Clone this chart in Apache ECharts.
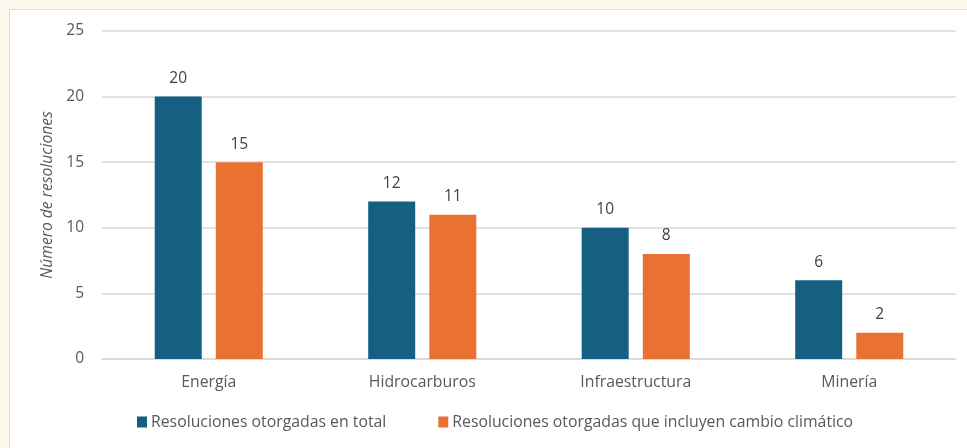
<!DOCTYPE html>
<html><head><meta charset="utf-8">
<script src="https://cdn.jsdelivr.net/npm/echarts@6/dist/echarts.min.js"></script>
<style>html,body{margin:0;padding:0;background:#fdf9ec;}#c{width:967px;height:448px;}</style>
</head><body><div id="c"></div>
<script>
const categories = ['Energía', 'Hidrocarburos', 'Infraestructura', 'Minería'];
const totalValues = [20, 12, 10, 6];
const climateValues = [15, 11, 8, 2];
const seriesNames = ['Resoluciones otorgadas en total', 'Resoluciones otorgadas que incluyen cambio climático'];
const yTicks = {min: 0, max: 25, interval: 5};
const font = '"Open Sans", sans-serif';
const chart = echarts.init(document.getElementById('c'));
chart.setOption({
  backgroundColor: '#fdf9ec',
  graphic: [{type: 'rect', z: -10, shape: {x: 9.5, y: 9.5, width: 980, height: 460}, style: {fill: '#ffffff', stroke: '#dcdcdc', lineWidth: 1}}],
  textStyle: {fontFamily: font},
  grid: {left: 102, right: 11, top: 31, bottom: 89},
  legend: {
    bottom: 13, left: 132, itemWidth: 10, itemHeight: 11, icon: 'rect', itemGap: 52,
    textStyle: {color: '#595959', fontSize: 15.8, fontFamily: font, padding: [0, 0, 0, -1]},
    data: seriesNames
  },
  xAxis: {
    type: 'category', data: categories,
    axisTick: {show: false},
    axisLine: {lineStyle: {color: '#d9d9d9', width: 1.5}},
    axisLabel: {color: '#595959', fontSize: 15.8, margin: 15, fontFamily: font}
  },
  yAxis: {
    type: 'value', min: yTicks.min, max: yTicks.max, interval: yTicks.interval,
    name: 'Número de resoluciones', nameLocation: 'middle', nameGap: 46,
    nameTextStyle: {color: '#595959', fontSize: 15.7, fontStyle: 'italic', fontFamily: font},
    axisLabel: {color: '#595959', fontSize: 15.5, margin: 18, fontFamily: font},
    splitLine: {lineStyle: {color: '#d9d9d9', width: 1.5}}
  },
  series: [
    {name: seriesNames[0], type: 'bar', data: totalValues, barWidth: 47, barGap: '30%',
     itemStyle: {color: '#156082'},
     label: {show: true, position: 'top', distance: 10, color: '#404040', fontSize: 15.5, fontFamily: font}},
    {name: seriesNames[1], type: 'bar', data: climateValues, barWidth: 47, barGap: '30%',
     itemStyle: {color: '#e97132'},
     label: {show: true, position: 'top', distance: 10, color: '#404040', fontSize: 15.5, fontFamily: font}}
  ]
});
</script></body></html>
